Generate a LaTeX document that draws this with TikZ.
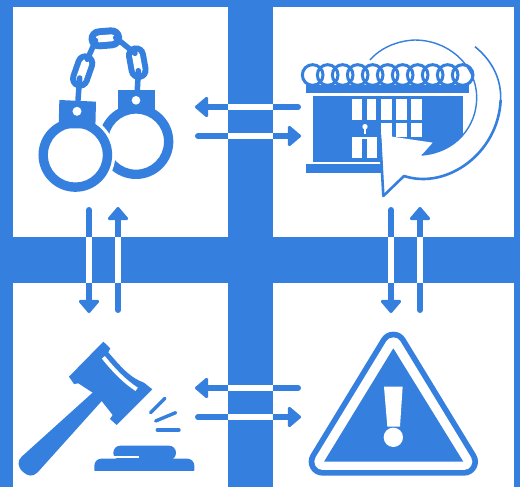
\documentclass[tikz,border=0pt]{standalone}
\usepackage{xcolor}
\usepackage{tikz}
\usetikzlibrary{arrows.meta, positioning}
\definecolor{jailblue}{RGB}{53,127,222}

\begin{document}
\begin{tikzpicture}[x=1pt, y=-1pt,
  panel/.style={fill=white, inner sep=0pt, outer sep=0pt, minimum width=#1},
  flow/.style={draw=jailblue, line width=6pt, line cap=round, -{Triangle[round, length=14pt, width=23pt, line width=3pt]}},
  gap/.style={draw=white, line width=6pt},
  chain/.style={draw=jailblue, line width=5.5pt, line cap=round},
  spark/.style={draw=jailblue, line width=3.4pt, line cap=round},
  icon/.style={shift={#1}, scale=0.33333}]
  \useasboundingbox (0,0) rectangle (520,487);
  \fill[jailblue] (0,0) rectangle (520,487);
  \node[panel=215pt, minimum height=230pt] (cuffs) at (120.5,122) {};
  \node[panel=241pt, minimum height=230pt] (prison) at (393.5,122) {};
  \node[panel=215pt, minimum height=204pt] (gavel) at (120.5,385) {};
  \node[panel=241pt, minimum height=204pt] (warn) at (393.5,385) {};

  % handcuffs
  \begin{scope}[icon={(0,0)}]
    \fill[jailblue] (355,270) rectangle (465,340);
    \fill[jailblue, even odd rule] (408,425) circle[radius=112pt] (408,425) circle[radius=84pt];
    \fill[white] (408,301) circle[radius=13pt];
    \fill[white] (226,465) circle[radius=120pt];
    \fill[jailblue] (178,300) -- (288,305) -- (286,385) -- (176,385) -- cycle;
    \fill[jailblue, even odd rule] (226,465) circle[radius=110.5pt] (226,465) circle[radius=82.5pt];
    \fill[white] (231,334) circle[radius=13.5pt];
    \draw[draw=jailblue, line width=20pt, line cap=round] (256,190) -- (240,236);
    \draw[draw=white, line width=8pt, line cap=round] (256,190) -- (240,236);
    \draw[draw=jailblue, line width=21pt, line cap=round] (297,116.5) -- (335,113.5);
    \draw[draw=white, line width=7pt, line cap=round] (297,116.5) -- (335,113.5);
    \draw[draw=jailblue, line width=20pt, line cap=round] (408,166) -- (416,210);
    \draw[draw=white, line width=8pt, line cap=round] (408,166) -- (416,210);
    \draw[chain] (234,300) -- (239,234);
    \draw[chain] (412,270) -- (415,212);
    \draw[chain] (287,122) -- (262,178);
    \draw[chain] (347,113) -- (405,160);
  \end{scope}

  % prison
  \begin{scope}[icon={(280,20)}]
    \foreach \ringx in {98,143,188,233,278,323,368,413,458,503,548}
      \draw[jailblue, line width=3pt] (\ringx,165) circle[radius=31pt];
    \fill[jailblue] (78,195) rectangle (568,220);
    \fill[jailblue] (98,228) rectangle (548,425);
    \fill[jailblue] (78,432) rectangle (302,458);
    \foreach \winx/\winw in {217/28,260/29,304/32,349/31,393/32}
      \fill[white] (\winx,237) rectangle ++(\winw,63);
    \foreach \winx/\winw in {304/32,349/31,393/32}
      \fill[white] (\winx,310) rectangle ++(\winw,40);
    \fill[white] (217,350) rectangle (290,415);
    \fill[jailblue] (246,358) rectangle (261,415);
    \fill[white] (255,320) circle[radius=8pt];
    \fill[white] (251,322) rectangle (259,342);
    \fill[white] (303,345) -- (458,368) -- (425,405)
      .. controls (525,398) and (592,320) .. (590,230)
      .. controls (590,170) and (600,120) .. (585,80)
      .. controls (640,125) and (664,180) .. (662,240)
      .. controls (655,400) and (500,510) .. (372,468)
      -- (312,528) -- cycle;
    \draw[jailblue, line width=1.4pt] (425,405)
      .. controls (525,398) and (592,320) .. (590,230)
      .. controls (588,130) and (500,60) .. (405,60)
      .. controls (350,62) and (300,85) .. (270,120);
    \draw[jailblue, line width=1.6pt] (662,240) .. controls (664,180) and (640,125) .. (585,80);
    \draw[jailblue, line width=2.6pt, line join=round] (300,345) -- (310,528) -- (372,468)
      .. controls (500,510) and (655,400) .. (662,240);
  \end{scope}

  % gavel
  \begin{scope}[icon={(0,320)}]
    \fill[jailblue] (300,198) -- (325,221) -- (112,458)
      .. controls (98,472) and (82,468) .. (68,455)
      .. controls (52,440) and (52,422) .. (65,410) -- cycle;
    \fill[jailblue] (310,65) -- (331,85) -- (325,97)
      .. controls (370,150) and (395,175) .. (432,188)
      -- (457,208) -- (350,315) -- (330,297) -- (338,285) -- (305,243)
      -- (278,218) -- (235,190) -- (222,192) -- (207,170) -- cycle;
    \draw[white, line width=4pt] (310,112) .. controls (345,155) and (375,185) .. (410,208);
    \draw[spark] (452,278) -- (495,235);
    \draw[spark] (467,303) -- (527,278);
    \draw[spark] (472,330) -- (537,330);
    \fill[jailblue, rounded corners=7pt] (340,420) -- (340,377) -- (528,377) -- (528,420) -- cycle;
    \fill[jailblue, rounded corners=7pt] (283,470) -- (283,416) -- (583,416) -- (583,470) -- cycle;
    \fill[white] (283,453) rectangle (590,480);
    \fill[white] (340,408) rectangle (418,415);
  \end{scope}

  % warning sign
  \begin{scope}[icon={(180,320)}]
    \draw[draw=jailblue, fill=white, line width=28pt, line join=round] (640,77) -- (852,425) -- (428,425) -- cycle;
    \draw[draw=white, line width=16.6pt, line join=round] (640,77) -- (852,425) -- (428,425) -- cycle;
    \fill[jailblue] (640,85) -- (850,425) -- (432,425) -- cycle;
    \fill[white] (612,200) -- (668,200) -- (660,320) -- (622,320) -- cycle;
    \fill[white] (640,352) circle[radius=29pt];
  \end{scope}

  \coordinate (cuffsA) at (298,107);
  \coordinate (cuffsB) at (195,107);
  \coordinate (prisonA) at (198,136);
  \coordinate (prisonB) at (301,136);
  \coordinate (gavelA) at (298,388);
  \coordinate (gavelB) at (195,388);
  \coordinate (warnA) at (198,417);
  \coordinate (warnB) at (301,417);
  \coordinate (downA) at (89,210);
  \coordinate (downB) at (89,313);
  \coordinate (upA) at (118,310);
  \coordinate (upB) at (118,207);
  \coordinate (rdownA) at (391,210);
  \coordinate (rdownB) at (391,313);
  \coordinate (rupA) at (420,310);
  \coordinate (rupB) at (420,207);

  \draw[flow] (cuffsA) -- (cuffsB);
  \draw[flow] (prisonA) -- (prisonB);
  \draw[flow] (gavelA) -- (gavelB);
  \draw[flow] (warnA) -- (warnB);
  \draw[flow] (downA) -- (downB);
  \draw[flow] (upA) -- (upB);
  \draw[flow] (rdownA) -- (rdownB);
  \draw[flow] (rupA) -- (rupB);
  \draw[gap] (cuffsA -| prison.west) -- (cuffsA -| cuffs.east);
  \draw[gap] (prisonA -| cuffs.east) -- (prisonA -| prison.west);
  \draw[gap] (gavelA -| warn.west) -- (gavelA -| gavel.east);
  \draw[gap] (warnA -| gavel.east) -- (warnA -| warn.west);
  \draw[gap] (downA |- cuffs.south) -- (downA |- gavel.north);
  \draw[gap] (upA |- gavel.north) -- (upA |- cuffs.south);
  \draw[gap] (rdownA |- prison.south) -- (rdownA |- warn.north);
  \draw[gap] (rupA |- warn.north) -- (rupA |- prison.south);
\end{tikzpicture}
\end{document}
